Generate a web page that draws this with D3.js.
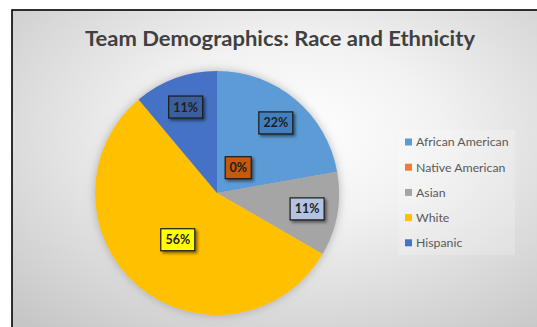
<!DOCTYPE html>
<html>
<head>
<meta charset="utf-8">
<script src="https://cdn.jsdelivr.net/npm/d3@7"></script>
<style>
  body { margin: 0; background: #ffffff; }
  svg { display: block; }
</style>
</head>
<body>
<div id="chart"></div>
<script>
  // chart data
  var categories = ["African American", "Native American", "Asian", "White", "Hispanic"];
  var counts = [2, 0, 1, 5, 1];

  // slice colours and label box colours
  var sliceColors = ["#5b9bd5", "#ed7d31", "#a5a5a5", "#ffc000", "#4472c4"];
  var boxColors = ["#437fbf", "#c55a11", "#b4c3e0", "#ffff00", "#3a5f9c"];

  var width = 537;
  var height = 327;

  // pie geometry
  var cx = 217;
  var cy = 193;
  var radius = 122;

  var svg = d3.select("#chart").append("svg")
    .attr("width", width)
    .attr("height", height);

  var defs = svg.append("defs");

  // radial background like the excel style
  var bg = defs.append("radialGradient")
    .attr("id", "bg")
    .attr("cx", "0.52")
    .attr("cy", "0.36")
    .attr("r", "0.75");
  bg.append("stop").attr("offset", "0%").attr("stop-color", "#ffffff");
  bg.append("stop").attr("offset", "35%").attr("stop-color", "#f2f2f2");
  bg.append("stop").attr("offset", "100%").attr("stop-color", "#c6c6c6");

  // soft glow round the pie
  var glow = defs.append("filter")
    .attr("id", "glow")
    .attr("x", "-20%").attr("y", "-20%")
    .attr("width", "140%").attr("height", "140%");
  glow.append("feDropShadow")
    .attr("dx", 0).attr("dy", 0)
    .attr("stdDeviation", 5)
    .attr("flood-color", "#7f7f7f")
    .attr("flood-opacity", 0.55);

  // shadow under the data labels
  var shadow = defs.append("filter")
    .attr("id", "shadow")
    .attr("x", "-30%").attr("y", "-30%")
    .attr("width", "170%").attr("height", "170%");
  shadow.append("feDropShadow")
    .attr("dx", 2).attr("dy", 2)
    .attr("stdDeviation", 1.5)
    .attr("flood-color", "#000000")
    .attr("flood-opacity", 0.5);

  // chart area with its black border
  svg.append("rect")
    .attr("x", 12)
    .attr("y", 10)
    .attr("width", 545)
    .attr("height", 340)
    .attr("fill", "url(#bg)")
    .attr("stroke", "#000000")
    .attr("stroke-width", 1.6);

  // title
  svg.append("text")
    .attr("x", 280)
    .attr("y", 46)
    .attr("text-anchor", "middle")
    .attr("font-family", "Lato, 'Open Sans', sans-serif")
    .attr("font-weight", "bold")
    .attr("font-size", 20)
    .attr("fill", "#404040")
    .attr("textLength", 390)
    .attr("lengthAdjust", "spacingAndGlyphs")
    .text("Team Demographics:  Race and Ethnicity");

  // build the pie slices
  var data = categories.map((c, i) => ({ name: c, value: counts[i], index: i }));
  var total = d3.sum(counts);

  var color = d3.scaleOrdinal()
    .domain(categories)
    .range(sliceColors);

  var pie = d3.pie()
    .sort(null)
    .value(d => d.value);

  var arcs = pie(data);

  var arc = d3.arc()
    .innerRadius(0)
    .outerRadius(radius);

  var pieGroup = svg.append("g")
    .attr("transform", "translate(" + cx + "," + cy + ")");

  pieGroup.append("g")
    .attr("filter", "url(#glow)")
    .selectAll("path")
    .data(arcs)
    .join("path")
    .attr("d", arc)
    .attr("fill", d => color(d.data.name));

  // label placement: fraction of radius for each slice, the empty slice sits near the centre
  function labelPos(d) {
    if (d.data.value === 0) {
      var a0 = 40 * Math.PI / 180;
      return [Math.sin(a0) * 33, -Math.cos(a0) * 33];
    }
    var f = d.data.name === "White" ? 0.5 : 0.75;
    var a = (d.startAngle + d.endAngle) / 2;
    return [Math.sin(a) * radius * f, -Math.cos(a) * radius * f];
  }

  var labels = pieGroup.selectAll(".label")
    .data(arcs)
    .join("g")
    .attr("class", "label")
    .attr("transform", d => "translate(" + labelPos(d) + ")");

  labels.append("rect")
    .attr("x", d => d.data.value === 0 ? -13 : -17)
    .attr("y", -11)
    .attr("width", d => d.data.value === 0 ? 26 : 34)
    .attr("height", 22)
    .attr("fill", d => boxColors[d.data.index])
    .attr("stroke", "#1a1a1a")
    .attr("stroke-width", 1.2)
    .attr("filter", "url(#shadow)");

  labels.append("text")
    .attr("text-anchor", "middle")
    .attr("dy", "0.36em")
    .attr("font-family", "Lato, 'Open Sans', sans-serif")
    .attr("font-weight", "bold")
    .attr("font-size", 12.5)
    .attr("fill", "#1f1f1f")
    .text(d => Math.round(d.data.value / total * 100) + "%");

  // legend
  var legend = svg.append("g");

  legend.append("rect")
    .attr("x", 398)
    .attr("y", 130)
    .attr("width", 117)
    .attr("height", 125)
    .attr("fill", "#ffffff")
    .attr("fill-opacity", 0.2);

  var items = legend.selectAll(".item")
    .data(categories)
    .join("g")
    .attr("class", "item")
    .attr("transform", (d, i) => "translate(405," + (142 + i * 25.2) + ")");

  items.append("rect")
    .attr("x", 0)
    .attr("y", -3.5)
    .attr("width", 7)
    .attr("height", 7)
    .attr("fill", d => color(d));

  items.append("text")
    .attr("x", 11)
    .attr("dy", "0.35em")
    .attr("font-family", "Lato, 'Open Sans', sans-serif")
    .attr("font-size", 12.3)
    .attr("fill", "#595959")
    .text(d => d);
</script>
</body>
</html>
